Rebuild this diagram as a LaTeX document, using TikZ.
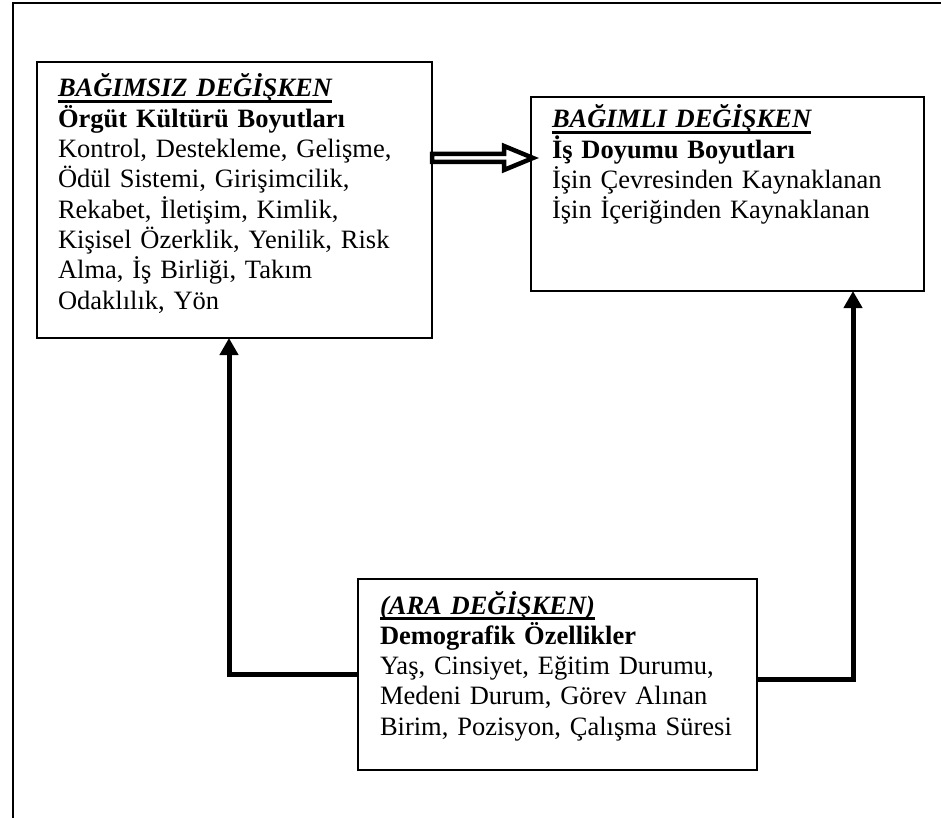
\documentclass[tikz,border=0pt]{standalone}
\usepackage{fontspec}
\setmainfont{Liberation Serif}
\usetikzlibrary{arrows.meta,calc}
\newsavebox\hdbox
\newcommand\hdul[1]{\sbox\hdbox{#1}\rlap{\rule[-5.8pt]{\wd\hdbox}{2.4pt}}\usebox\hdbox}
\begin{document}
\begin{tikzpicture}[x=1pt,y=-1pt,
  outerline/.style={line width=2pt, line join=miter},
  boxnode/.style={draw, line width=2pt, inner sep=0pt, outer sep=0pt, anchor=north west},
  txt/.style={anchor=base west, inner sep=0pt, outer sep=0pt, text width=390pt, align=left,
              font=\fontsize{26.5}{30.3}\selectfont},
  conn/.style={line width=5pt, line join=miter, -{Triangle[width=18pt,length=17pt]}},
  hollowarrow/.style={draw, fill=white, line width=4.5pt, line join=miter, miter limit=20}]
\useasboundingbox (0,0) rectangle (941,818);
\draw[outerline] (13,818) -- (13,3) -- (941,3);
% boxes
\node[boxnode, minimum width=395pt, minimum height=276pt] (A) at (37,62) {};
\node[boxnode, minimum width=393pt, minimum height=194pt] (B) at (531,97) {};
\node[boxnode, minimum width=399pt, minimum height=191pt] (C) at (358,579) {};
% texts
\node[txt] (At) at (58,97) {{\bfseries\itshape\hdul{BAĞIMSIZ DEĞİŞKEN}}\\
{\bfseries Örgüt Kültürü Boyutları}\\
Kontrol, Destekleme, Gelişme,\\
Ödül Sistemi, Girişimcilik,\\
Rekabet, İletişim, Kimlik,\\
Kişisel Özerklik, Yenilik, Risk\\
Alma, İş Birliği, Takım\\
Odaklılık, Yön};
\node[txt] (Bt) at (552,128) {{\bfseries\itshape\hdul{BAĞIMLI DEĞİŞKEN}}\\
{\bfseries İş Doyumu Boyutları}\\
İşin Çevresinden Kaynaklanan\\
İşin İçeriğinden Kaynaklanan};
\node[txt] (Ct) at (380,614) {{\bfseries\itshape\hdul{(ARA DEĞİŞKEN)}}\\
{\bfseries Demografik Özellikler}\\
Yaş, Cinsiyet, Eğitim Durumu,\\
Medeni Durum, Görev Alınan\\
Birim, Pozisyon, Çalışma Süresi};
% hollow double arrow A -> B
\coordinate (da) at (0,158);
\coordinate (T) at (A.east |- da);
\coordinate (H) at (B.west |- da);
\draw[hollowarrow] ($(T)+(0,-4)$) -- ($(H)+(-27,-4)$) -- ($(H)+(-27,-12)$) -- ($(H)+(2,0)$)
  -- ($(H)+(-27,12)$) -- ($(H)+(-27,4)$) -- ($(T)+(0,4)$) -- cycle;
% connectors from C
\coordinate (cl) at (0,674);
\coordinate (cr) at (0,679);
\coordinate (lx) at (229,0);
\coordinate (rx) at (853,0);
\draw[conn] (C.west |- cl) -| (A.south -| lx);
\draw[conn] (C.east |- cr) -| (B.south -| rx);
\end{tikzpicture}
\end{document}
